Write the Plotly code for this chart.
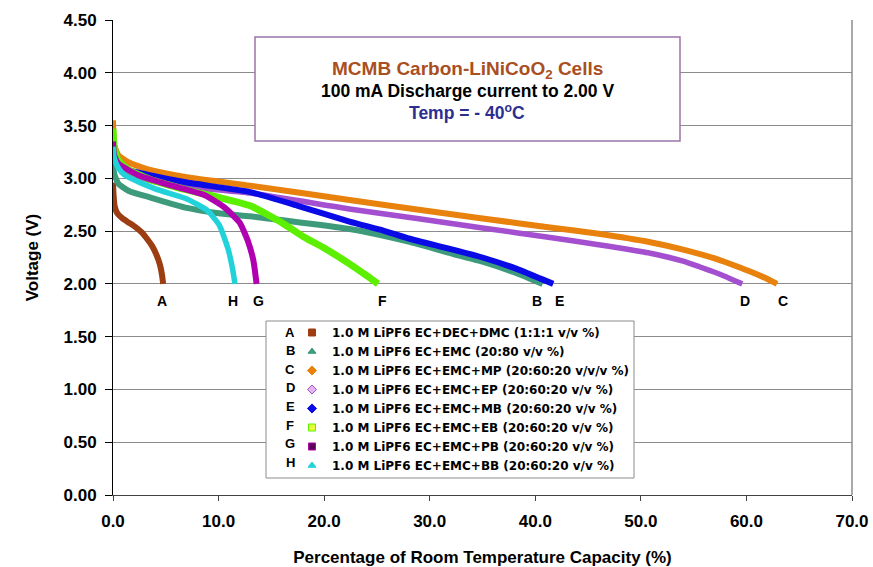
import plotly.graph_objects as go

# ---------------- data ----------------
series_ids = ["A", "B", "C", "D", "E", "F", "G", "H"]
series_names = [
    "1.0 M LiPF6 EC+DEC+DMC (1:1:1 v/v %)",
    "1.0 M LiPF6 EC+EMC (20:80 v/v %)",
    "1.0 M LiPF6 EC+EMC+MP (20:60:20 v/v/v %)",
    "1.0 M LiPF6 EC+EMC+EP (20:60:20 v/v %)",
    "1.0 M LiPF6 EC+EMC+MB (20:60:20 v/v %)",
    "1.0 M LiPF6 EC+EMC+EB (20:60:20 v/v %)",
    "1.0 M LiPF6 EC+EMC+PB (20:60:20 v/v %)",
    "1.0 M LiPF6 EC+EMC+BB (20:60:20 v/v %)",
]

A_cap = [0, 0.05, 0.15, 0.4, 0.9, 1.5, 2.1, 2.7, 3.2, 3.7, 4.1, 4.45, 4.65, 4.75]
A_volt = [2.96, 2.85, 2.74, 2.67, 2.62, 2.58, 2.54, 2.49, 2.43, 2.36, 2.28, 2.18, 2.08, 2.00]

B_cap = [0, 0.1, 0.5, 1.5, 3.5, 7, 10, 13, 16.3, 19.5, 22.4, 25, 28, 32, 35, 38, 39.5, 40.7]
B_volt = [3.20, 3.05, 2.95, 2.88, 2.82, 2.72, 2.67, 2.64, 2.60, 2.56, 2.52, 2.47, 2.40, 2.29, 2.21, 2.11, 2.05, 2.00]

C_cap = [0, 0.1, 0.5, 1.5, 3.5, 7, 13, 22.4, 28.8, 35, 41.4, 46, 50.9, 54, 57.2, 59, 60.3, 61.8, 62.9]
C_volt = [3.55, 3.32, 3.22, 3.15, 3.08, 3.01, 2.93, 2.795, 2.705, 2.62, 2.535, 2.475, 2.395, 2.325, 2.235, 2.17, 2.12, 2.055, 2.00]

D_cap = [0, 0.1, 0.5, 1.5, 3.5, 7, 13, 22.4, 28.8, 35, 41.4, 46, 50.9, 52.5, 54, 55.6, 57, 58, 58.9, 59.6]
D_volt = [3.45, 3.28, 3.15, 3.06, 2.98, 2.92, 2.86, 2.71, 2.62, 2.53, 2.44, 2.37, 2.29, 2.255, 2.215, 2.16, 2.11, 2.07, 2.03, 2.00]

E_cap = [0, 0.1, 0.5, 1.5, 3.5, 7, 13, 17.5, 22.4, 25.6, 28, 32, 35, 38.3, 40.5, 41.7]
E_volt = [3.35, 3.25, 3.15, 3.08, 3.03, 2.96, 2.87, 2.74, 2.59, 2.505, 2.43, 2.33, 2.25, 2.14, 2.05, 2.00]

F_cap = [0, 0.1, 0.5, 1.5, 3.5, 7, 10, 13, 16, 18, 20, 22.4, 24, 25.1]
F_volt = [3.47, 3.30, 3.17, 3.08, 2.99, 2.89, 2.82, 2.74, 2.58, 2.45, 2.34, 2.19, 2.08, 2.00]

G_cap = [0, 0.1, 0.5, 2.4, 5.6, 8.7, 10.6, 12.0, 12.8, 13.3, 13.6]
G_volt = [3.35, 3.22, 3.14, 3.03, 2.93, 2.84, 2.72, 2.58, 2.40, 2.22, 2.00]

H_cap = [0, 0.1, 0.5, 1.1, 4, 7.1, 9, 10.1, 10.9, 11.35, 11.55]
H_volt = [3.30, 3.20, 3.10, 3.03, 2.90, 2.80, 2.69, 2.55, 2.33, 2.13, 2.00]

# end-of-curve letter labels (capacity %, voltage)
label_cap = [4.6, 40.2, 63.5, 59.9, 42.3, 25.5, 13.8, 11.4]
label_volt = [1.84, 1.84, 1.84, 1.84, 1.84, 1.84, 1.84, 1.84]

x_ticks = [0, 10, 20, 30, 40, 50, 60, 70]
y_ticks = [0, 0.5, 1.0, 1.5, 2.0, 2.5, 3.0, 3.5, 4.0, 4.5]

# ---------------- styles ----------------
caps = [A_cap, B_cap, C_cap, D_cap, E_cap, F_cap, G_cap, H_cap]
volts = [A_volt, B_volt, C_volt, D_volt, E_volt, F_volt, G_volt, H_volt]
line_colors = ["#9C3D12", "#3D9B7B", "#E8820C", "#A34FD0", "#0A0AE6", "#5CF000", "#B000B0", "#22D2DA"]
line_widths = [6, 6, 6, 5.5, 6, 7, 6, 5.5]
leg_symbols = ["square", "triangle-up", "diamond", "diamond", "diamond", "square", "square", "triangle-up"]
leg_fill = ["#9C3D12", "#3D9B7B", "#E8820C", "#E2B4F2", "#0A0AE6", "#E4FF3A", "#5A0055", "#22D2DA"]
leg_line = ["#9C3D12", "#3D9B7B", "#E8820C", "#A34FD0", "#0A0AE6", "#5CF000", "#B000B0", "#22D2DA"]

FONT = "Liberation Sans, Arial, sans-serif"
LEGFONT = "DejaVu Sans, Liberation Sans, sans-serif"

fig = go.Figure()
for i, sid in enumerate(series_ids):
    fig.add_trace(go.Scatter(
        x=caps[i], y=volts[i], mode="lines",
        line=dict(color=line_colors[i], width=line_widths[i], shape="spline", smoothing=0.5),
        showlegend=False, name=series_names[i], hoverinfo="skip"))

# legend-only entries (marker symbol only, as in reference)
for i, sid in enumerate(series_ids):
    fig.add_trace(go.Scatter(
        x=[None], y=[None], mode="markers", name="<b>" + series_names[i] + "</b>",
        marker=dict(symbol=leg_symbols[i], size=7, color=leg_fill[i],
                    line=dict(color=leg_line[i], width=1))))

# letters at curve ends
for i, sid in enumerate(series_ids):
    fig.add_annotation(x=label_cap[i], y=label_volt[i], text="<b>" + sid + "</b>",
                       showarrow=False, xanchor="center", yanchor="middle",
                       font=dict(family=FONT, size=14, color="#000000"))

# plot-area geometry (px) for paper conversions
L, R, T, B = 113, 852, 20, 495
W, H = R - L, B - T
def px(xp):
    return (xp - L) / W
def py(yp):
    return (B - yp) / H

# right border of plot area
fig.add_shape(type="line", xref="paper", yref="paper", x0=1, x1=1, y0=0, y1=1,
              line=dict(color="#8C8C8C", width=1.5), layer="above")

# title box
fig.add_shape(type="rect", xref="paper", yref="paper",
              x0=px(255), x1=px(680), y0=py(141), y1=py(37),
              line=dict(color="#9C74A8", width=1.5), fillcolor="white", layer="above")
cx = px(467)
fig.add_annotation(xref="paper", yref="paper", x=cx, y=py(70), xanchor="center", yanchor="middle",
                   text="<b>MCMB Carbon-LiNiCoO<sub>2</sub> Cells</b>", showarrow=False,
                   font=dict(family=FONT, size=19, color="#A94F22"))
fig.add_annotation(xref="paper", yref="paper", x=cx, y=py(91), xanchor="center", yanchor="middle",
                   text="<b>100 mA Discharge current to 2.00 V</b>", showarrow=False,
                   font=dict(family=FONT, size=17.5, color="#000000"))
fig.add_annotation(xref="paper", yref="paper", x=cx, y=py(112), xanchor="center", yanchor="middle",
                   text="<b>Temp = - 40<sup>o</sup>C</b>", showarrow=False,
                   font=dict(family=FONT, size=17.5, color="#2E2E90"))

# legend box
fig.add_shape(type="rect", xref="paper", yref="paper",
              x0=px(266), x1=px(634), y0=py(478), y1=py(321),
              line=dict(color="#8C8C8C", width=1), fillcolor="white", layer="above")
row_top = 332
row_gap = 18.6
for i, sid in enumerate(series_ids):
    fig.add_annotation(xref="paper", yref="paper", x=px(290), y=py(row_top + row_gap * i),
                       xanchor="center", yanchor="middle",
                       text="<b>" + sid + "</b>", showarrow=False,
                       font=dict(family=FONT, size=13, color="#000000"))

fig.update_layout(
    width=873, height=567,
    margin=dict(l=L, r=873 - R, t=T, b=567 - B, pad=0),
    paper_bgcolor="white", plot_bgcolor="white",
    font=dict(family=FONT, color="#000000"),
    showlegend=True,
    legend=dict(x=px(292), y=py(318), xanchor="left", yanchor="top",
                bgcolor="rgba(0,0,0,0)", borderwidth=0,
                font=dict(family=LEGFONT, size=12, color="#000000"),
                tracegroupgap=0),
    xaxis=dict(range=[0, 70], tickvals=x_ticks, ticktext=["<b>%.1f</b>" % v for v in x_ticks],
               automargin=False,
               showgrid=False, zeroline=False, showline=True, linecolor="#444444", linewidth=1,
               ticks="outside", ticklen=5, tickcolor="#444444", ticklabelstandoff=6,
               tickfont=dict(family=FONT, size=17, color="#000000"),
               title=dict(text="<b>Percentage of Room Temperature Capacity (%)</b>",
                          font=dict(family=FONT, size=17, color="#000000"), standoff=20)),
    yaxis=dict(range=[0, 4.5], tickvals=y_ticks, ticktext=["<b>%.2f</b>" % v for v in y_ticks],
               automargin=False,
               showgrid=True, gridcolor="#8C8C8C", gridwidth=1, zeroline=False,
               showline=True, linecolor="#000000", linewidth=1,
               ticks="outside", ticklen=7, tickcolor="#000000", ticklabelstandoff=5,
               tickfont=dict(family=FONT, size=17, color="#000000"),
               title=dict(text="<b>Voltage (V)</b>",
                          font=dict(family=FONT, size=17, color="#000000"), standoff=20)),
)

fig.write_html("out.html")
